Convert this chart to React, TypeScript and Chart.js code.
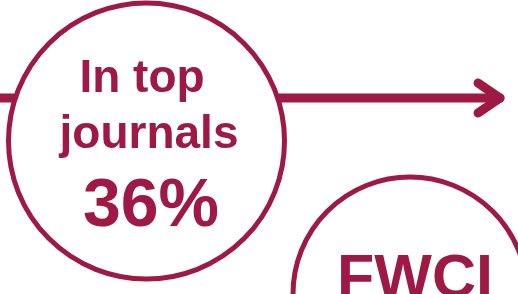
import React, { useEffect, useRef } from "react";
import { Chart, registerables } from "chart.js";

Chart.register(...registerables);

const COLOR = "#9e1a44";

// Arrow shaft and head (data units = pixels on hidden linear scales)
const shaftPoints = [
  { x: -5, y: 98 },
  { x: 500, y: 98 },
];
const headPoints = [
  { x: 478, y: 83 },
  { x: 500, y: 98 },
  { x: 478, y: 113 },
];

// Circles (centres and radii)
const circleCenters = [
  { x: 146.5, y: 141 },
  { x: 410, y: 294 },
];
const circleRadius = [138, 117];

// Labels
const labelTexts = ["In top", "journals", "36%", "FWCI"];
const labelX = [142, 149, 151, 415];
const labelY = [92, 148, 226, 297];
const labelSize = [46, 46, 68, 61];

const textPlugin = {
  id: "circleText",
  afterDatasetsDraw(chart: any) {
    const { ctx, scales } = chart;
    ctx.save();
    ctx.fillStyle = COLOR;
    ctx.textAlign = "center";
    ctx.textBaseline = "alphabetic";
    labelTexts.forEach((t, i) => {
      ctx.font = `bold ${labelSize[i]}px "Liberation Sans", Arial, sans-serif`;
      ctx.fillText(t, scales.x.getPixelForValue(labelX[i]), scales.y.getPixelForValue(labelY[i]));
    });
    ctx.restore();
  },
};

export default function App() {
  const ref = useRef<HTMLCanvasElement>(null);
  useEffect(() => {
    if (!ref.current) return;
    const chart = new Chart(ref.current, {
      type: "scatter",
      data: {
        datasets: [
          {
            data: circleCenters,
            pointRadius: circleRadius,
            pointBackgroundColor: "#ffffff",
            pointBorderColor: COLOR,
            pointBorderWidth: 5,
            showLine: false,
            clip: false,
            order: 0,
          } as any,
          {
            data: headPoints,
            showLine: true,
            borderColor: COLOR,
            borderWidth: 9,
            pointRadius: 0,
            borderCapStyle: "round",
            borderJoinStyle: "round",
            clip: false,
            order: 1,
          } as any,
          {
            data: shaftPoints,
            showLine: true,
            borderColor: COLOR,
            borderWidth: 9,
            pointRadius: 0,
            borderCapStyle: "round",
            clip: false,
            order: 2,
          } as any,
        ],
      },
      options: {
        animation: false,
        responsive: false,
        events: [],
        layout: { autoPadding: false, padding: 0 },
        plugins: { legend: { display: false }, tooltip: { enabled: false } },
        scales: {
          x: { type: "linear", min: 0, max: 518, display: false },
          y: { type: "linear", min: 0, max: 294, reverse: true, display: false },
        },
      },
      plugins: [textPlugin],
    });
    return () => chart.destroy();
  }, []);
  return (
    <div style={{ position: "fixed", left: 0, top: 0, width: 518, height: 294, background: "#fff" }}>
      <canvas ref={ref} width={518} height={294} style={{ display: "block" }} />
    </div>
  );
}
